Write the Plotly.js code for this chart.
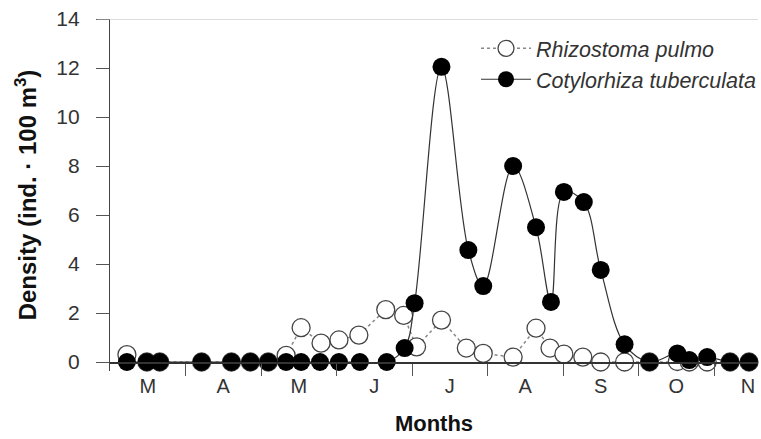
<!DOCTYPE html>
<html>
<head>
<meta charset="utf-8">
<script src="https://cdn.plot.ly/plotly-3.0.1.min.js"></script>
<style>html,body{margin:0;padding:0;background:#fff;}#chart{width:761px;height:439px;}</style>
</head>
<body>
<div id="chart"></div>
<script>
// x = months elapsed since 1 March
const monthLabels = ['M','A','M','J','J','A','S','O','N'];
const monthCenters = [0.5,1.5,2.5,3.5,4.5,5.5,6.5,7.5,8.45];
const monthBounds = [1,2,3,4,5,6,7,8];

const rhizoX = [0.224,0.488,0.659,1.213,1.608,1.859,2.096,2.333,2.531,2.795,3.032,3.296,3.652,3.889,4.060,4.390,4.719,4.943,5.339,5.642,5.827,6.011,6.262,6.499,6.815,7.145,7.514,7.672,7.909,8.212,8.463];
const rhizoY = [0.3,0,0,0,0,0,0,0.27,1.4,0.77,0.9,1.1,2.14,1.9,0.62,1.71,0.57,0.35,0.2,1.38,0.57,0.32,0.2,0,0,0,0.02,0,0,0,0];

const cotyX = [0.224,0.488,0.659,1.213,1.608,1.859,2.096,2.333,2.531,2.781,3.032,3.309,3.665,3.902,4.034,4.390,4.746,4.943,5.339,5.642,5.840,6.011,6.275,6.499,6.815,7.145,7.514,7.672,7.909,8.212,8.463];
const cotyY = [0,0,0,0,0,0,0,0,0,0,0,0,0,0.57,2.4,12.05,4.57,3.1,8.0,5.5,2.45,6.94,6.53,3.76,0.72,0,0.35,0.08,0.2,0,0];

const font = 'Liberation Sans, Arial, sans-serif';

const traces = [
  {
    x: rhizoX, y: rhizoY, name: '<i>Rhizostoma pulmo</i>',
    mode: 'lines+markers', cliponaxis: false,
    line: {color: '#888', width: 1.5, dash: 'dot'},
    marker: {symbol: 'circle', size: 18, color: '#fff', line: {color: '#444', width: 1.3}}
  },
  {
    x: cotyX, y: cotyY, name: '<i>Cotylorhiza tuberculata</i>',
    mode: 'lines+markers', cliponaxis: false,
    line: {color: '#333', width: 1.2, shape: 'spline', smoothing: 1},
    marker: {symbol: 'circle', size: 18, color: '#000', line: {color: '#000', width: 0}}
  }
];

const layout = {
  width: 761, height: 439,
  margin: {l: 110, r: 0, t: 19, b: 68},
  paper_bgcolor: '#fff', plot_bgcolor: '#fff',
  font: {family: font, color: '#222', size: 20},
  showlegend: true,
  legend: {
    x: 0.565, y: 0.975, xanchor: 'left', yanchor: 'top',
    itemwidth: 50,
    bgcolor: 'rgba(0,0,0,0)', font: {family: font, size: 21.5, color: '#333'},
    tracegroupgap: 0
  },
  xaxis: {
    range: [0, 8.582], anchor: 'free', position: 0.02555,
    showline: true, linecolor: '#333', linewidth: 1.5,
    showgrid: false, zeroline: false,
    tickmode: 'array', tickvals: monthCenters, ticktext: monthLabels,
    ticks: 'outside', ticklen: 5, tickcolor: 'rgba(0,0,0,0)',
    tickfont: {family: font, size: 20, color: '#333'},
    minor: {tickmode: 'array', tickvals: monthBounds, ticks: 'outside', ticklen: 12, tickcolor: '#555', tickwidth: 1, showgrid: false},
    title: {text: '<b>Months</b>', font: {family: font, size: 22, color: '#111'}, standoff: 20}
  },
  yaxis: {
    range: [-0.367, 14],
    showline: true, linecolor: '#444', linewidth: 1.2,
    showgrid: false, zeroline: false,
    tickmode: 'array', tickvals: [0,2,4,6,8,10,12,14],
    ticks: 'outside', ticklen: 13, tickcolor: '#555', tickwidth: 1,
    ticklabelstandoff: 12,
    tickfont: {family: font, size: 21, color: '#333'},
    title: {text: '<b>Density (ind. · 100 m<sup>3</sup>)</b>', font: {family: font, size: 24, color: '#111'}, standoff: 12}
  },
  shapes: [
    {type: 'line', xref: 'paper', yref: 'y', x0: -0.02, x1: 1, y0: 14, y1: 14, line: {color: '#bbb', width: 1.2}}
  ]
};

Plotly.newPlot('chart', traces, layout, {staticPlot: true, displayModeBar: false});
</script>
</body>
</html>
